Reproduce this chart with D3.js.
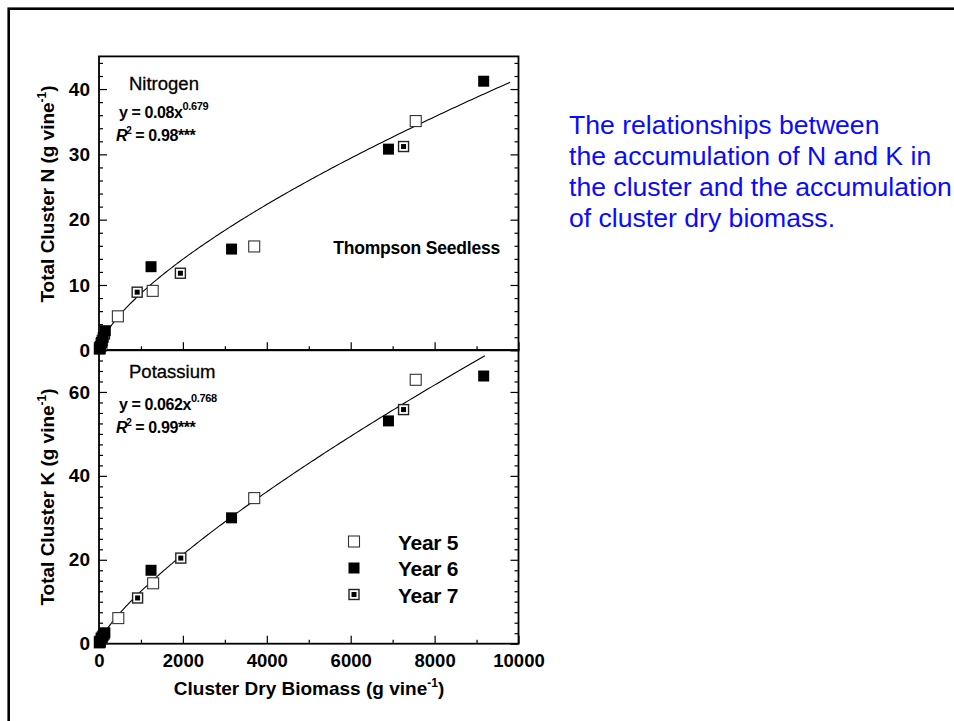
<!DOCTYPE html>
<html>
<head>
<meta charset="utf-8">
<script src="https://cdn.jsdelivr.net/npm/d3@7"></script>
<style>
  html, body { margin: 0; padding: 0; background: #fff; }
  svg { display: block; }
  text { font-family: "Liberation Sans", Arial, Helvetica, sans-serif; }
</style>
</head>
<body>
<svg id="chart" width="954" height="721"></svg>
<script>
// ---------------- DATA ----------------
const seriesNames = ["Year 5", "Year 6", "Year 7"];

// Nitrogen panel: [cluster dry biomass, total cluster N]
const nYear5 = [[20, 0.3], [60, 1.0], [450, 5.2], [1280, 9.1], [3700, 15.9], [7550, 35.1]];
const nYear6 = [[10, 0.2], [30, 0.6], [60, 1.2], [100, 2.0], [150, 3.0], [1240, 12.8], [3160, 15.5], [6900, 30.8], [9170, 41.2]];
const nYear7 = [[20, 0.4], [80, 1.5], [130, 2.5], [910, 8.9], [1940, 11.8], [7260, 31.2]];

// Potassium panel: [cluster dry biomass, total cluster K]
const kYear5 = [[20, 0.4], [60, 1.2], [460, 6.1], [1290, 14.4], [3700, 34.7], [7550, 62.9]];
const kYear6 = [[10, 0.2], [30, 0.6], [60, 1.3], [100, 2.0], [140, 2.6], [1240, 17.5], [3160, 30.0], [6900, 53.1], [9170, 63.8]];
const kYear7 = [[20, 0.5], [80, 1.6], [120, 2.3], [920, 10.9], [1950, 20.4], [7260, 55.8]];

// Fitted power models shown in the chart: y = a * x^b
const nFit = { a: 0.08, b: 0.679, xmin: 30, xmax: 9800 };
const kFit = { a: 0.062, b: 0.768, xmin: 30, xmax: 9200 };

// Axis ticks
const xMajorTicks = [0, 2000, 4000, 6000, 8000, 10000];
const xMinorTicks = [1000, 3000, 5000, 7000, 9000];
const nMajorTicks = [0, 10, 20, 30, 40];
const nMinorTicks = [2, 4, 6, 8, 12, 14, 16, 18, 22, 24, 26, 28, 32, 34, 36, 38, 42, 44];
const kMajorTicks = [0, 20, 40, 60];
const kMinorTicks = [2.5, 5, 7.5, 10, 12.5, 15, 17.5, 22.5, 25, 27.5, 30, 32.5, 35, 37.5, 42.5, 45, 47.5, 50, 52.5, 55, 57.5, 62.5, 65, 67.5];

const descLines = [
  "The relationships between",
  "the accumulation of N and K in",
  "the cluster and the accumulation",
  "of cluster dry biomass."
];

// ---------------- LAYOUT ----------------
const svg = d3.select("#chart");
const FONT = '"Liberation Sans", Arial, Helvetica, sans-serif';

// outer slide frame
svg.append("rect")
  .attr("x", 8.7).attr("y", 8.7)
  .attr("width", 2000).attr("height", 2000)
  .attr("fill", "none").attr("stroke", "#000").attr("stroke-width", 2.6);

const left = 99, right = 518.5;
const x = d3.scaleLinear().domain([0, 10000]).range([left, right]);
const yN = d3.scaleLinear().domain([0, 45]).range([350.3, 56.4]);
const yK = d3.scaleLinear().domain([0, 70]).range([643.7, 350]);

function drawPanel(y, major, minor, showXLabels) {
  const g = svg.append("g");
  const [yb, yt] = y.range();
  // left axis
  const la = g.append("g").attr("transform", `translate(${left},0)`);
  la.call(d3.axisLeft(y).tickValues(minor).tickSize(-4).tickFormat(""));
  la.append("g").call(d3.axisLeft(y).tickValues(major).tickSize(-8).tickPadding(9))
    .selectAll("text").attr("font-size", 19).attr("font-weight", "bold")
    .attr("font-family", FONT).attr("fill", "#000");
  // right axis
  const ra = g.append("g").attr("transform", `translate(${right},0)`);
  ra.call(d3.axisRight(y).tickValues(minor).tickSize(-4).tickFormat(""));
  ra.append("g").call(d3.axisRight(y).tickValues(major).tickSize(-8).tickFormat(""));
  // bottom axis
  const ba = g.append("g").attr("transform", `translate(0,${yb})`);
  ba.call(d3.axisBottom(x).tickValues(xMinorTicks).tickSize(-4).tickFormat(""));
  const bMaj = ba.append("g").call(d3.axisBottom(x).tickValues(xMajorTicks).tickSize(-8).tickPadding(10)
    .tickFormat(showXLabels ? d3.format("d") : ""));
  bMaj.selectAll("text").attr("font-size", 18.5).attr("font-weight", "bold")
    .attr("font-family", FONT).attr("fill", "#000");
  g.selectAll(".domain").remove();
  g.selectAll(".tick line").attr("stroke", "#000").attr("stroke-width", 1.2);
  // frame
  g.append("rect").attr("x", left).attr("y", yt)
    .attr("width", right - left).attr("height", yb - yt)
    .attr("fill", "none").attr("stroke", "#000").attr("stroke-width", 1.8);
  return g;
}

function drawFit(y, fit) {
  const pts = d3.range(0, 201).map(i => {
    const xv = fit.xmin + (fit.xmax - fit.xmin) * Math.pow(i / 200, 1.6);
    return [xv, fit.a * Math.pow(xv, fit.b)];
  });
  svg.append("path")
    .attr("d", d3.line().x(d => x(d[0])).y(d => y(d[1]))(pts))
    .attr("fill", "none").attr("stroke", "#000").attr("stroke-width", 1.1);
}

const S = 11; // marker size
function marker(g, cx, cy, kind) {
  if (kind === 0) {
    g.append("rect").attr("x", cx - S / 2).attr("y", cy - S / 2).attr("width", S).attr("height", S)
      .attr("fill", "#fff").attr("stroke", "#333").attr("stroke-width", 1.1);
  } else if (kind === 1) {
    g.append("rect").attr("x", cx - S / 2).attr("y", cy - S / 2).attr("width", S).attr("height", S)
      .attr("fill", "#000");
  } else {
    g.append("rect").attr("x", cx - S / 2 + 0.5).attr("y", cy - S / 2 + 0.5).attr("width", S - 1).attr("height", S - 1)
      .attr("fill", "#fff").attr("stroke", "#222").attr("stroke-width", 1.4);
    g.append("rect").attr("x", cx - 2.5).attr("y", cy - 2.5).attr("width", 5).attr("height", 5)
      .attr("fill", "#000");
  }
}

// draw order: Year 5, Year 7, then Year 6 on top (as in the original)
function drawPoints(y, sets) {
  const g = svg.append("g");
  [0, 2, 1].forEach(k => sets[k].forEach(p => marker(g, x(p[0]), y(p[1]), k)));
}

// ---------- Panels ----------
drawPanel(yN, nMajorTicks, nMinorTicks, false);
drawPanel(yK, kMajorTicks, kMinorTicks, true);

drawFit(yN, nFit);
drawFit(yK, kFit);

drawPoints(yN, [nYear5, nYear6, nYear7]);
drawPoints(yK, [kYear5, kYear6, kYear7]);

// ---------- Panel annotations ----------
function equation(xp, yb, coef, expo, r2) {
  const t = svg.append("text").attr("x", xp).attr("y", yb)
    .attr("font-size", 16).attr("font-weight", "bold").attr("letter-spacing", -0.4);
  t.append("tspan").text(`y = ${coef}x`);
  t.append("tspan").attr("font-size", 11).attr("dy", -8).text(expo);
  const r = svg.append("text").attr("x", xp - 3).attr("y", yb + 23)
    .attr("font-size", 16).attr("font-weight", "bold").attr("letter-spacing", -0.4);
  r.append("tspan").attr("font-style", "italic").text("R");
  r.append("tspan").attr("font-size", 10).attr("dy", -7).attr("dx", -1).text("2");
  r.append("tspan").attr("dy", 7).text(` = ${r2}***`);
}

svg.append("text").attr("x", 129).attr("y", 90).attr("font-size", 18.5).attr("fill", "#000")
  .attr("stroke", "#000").attr("stroke-width", 0.3).text("Nitrogen");
equation(119, 118, "0.08", "0.679", "0.98");
svg.append("text").attr("x", 500).attr("y", 254).attr("text-anchor", "end")
  .attr("font-size", 17.5).attr("font-weight", "bold").attr("letter-spacing", -0.2).text("Thompson Seedless");

svg.append("text").attr("x", 129).attr("y", 378).attr("font-size", 18.5).attr("fill", "#000")
  .attr("stroke", "#000").attr("stroke-width", 0.3).text("Potassium");
equation(119, 410, "0.062", "0.768", "0.99");

// ---------- Legend ----------
const legY = [541.5, 568, 594.5];
const lg = svg.append("g");
seriesNames.forEach((name, i) => {
  marker(lg, 354, legY[i], i);
  lg.append("text").attr("x", 398).attr("y", legY[i] + 8)
    .attr("font-size", 21).attr("font-weight", "bold").attr("letter-spacing", -0.3).text(name);
});

// ---------- Axis titles ----------
function yTitle(cx, cy, letter) {
  const t = svg.append("text")
    .attr("transform", `translate(${cx},${cy}) rotate(-90)`)
    .attr("text-anchor", "middle").attr("font-size", 19).attr("font-weight", "bold");
  t.append("tspan").text(`Total Cluster ${letter} (g vine`);
  t.append("tspan").attr("font-size", 12).attr("dy", -8).text("-1");
  t.append("tspan").attr("dy", 8).text(")");
}
yTitle(54, 194, "N");
yTitle(54, 497, "K");

const xt = svg.append("text").attr("x", 309).attr("y", 695)
  .attr("text-anchor", "middle").attr("font-size", 19).attr("font-weight", "bold");
xt.append("tspan").text("Cluster Dry Biomass (g vine");
xt.append("tspan").attr("font-size", 12).attr("dy", -8).text("-1");
xt.append("tspan").attr("dy", 8).text(")");

// ---------- Description ----------
const desc = svg.append("text").attr("fill", "#0a0aff").attr("font-size", 26.6);
descLines.forEach((line, i) => {
  desc.append("tspan").attr("x", 569).attr("y", 133.5 + i * 31.2).text(line);
});
</script>
</body>
</html>
